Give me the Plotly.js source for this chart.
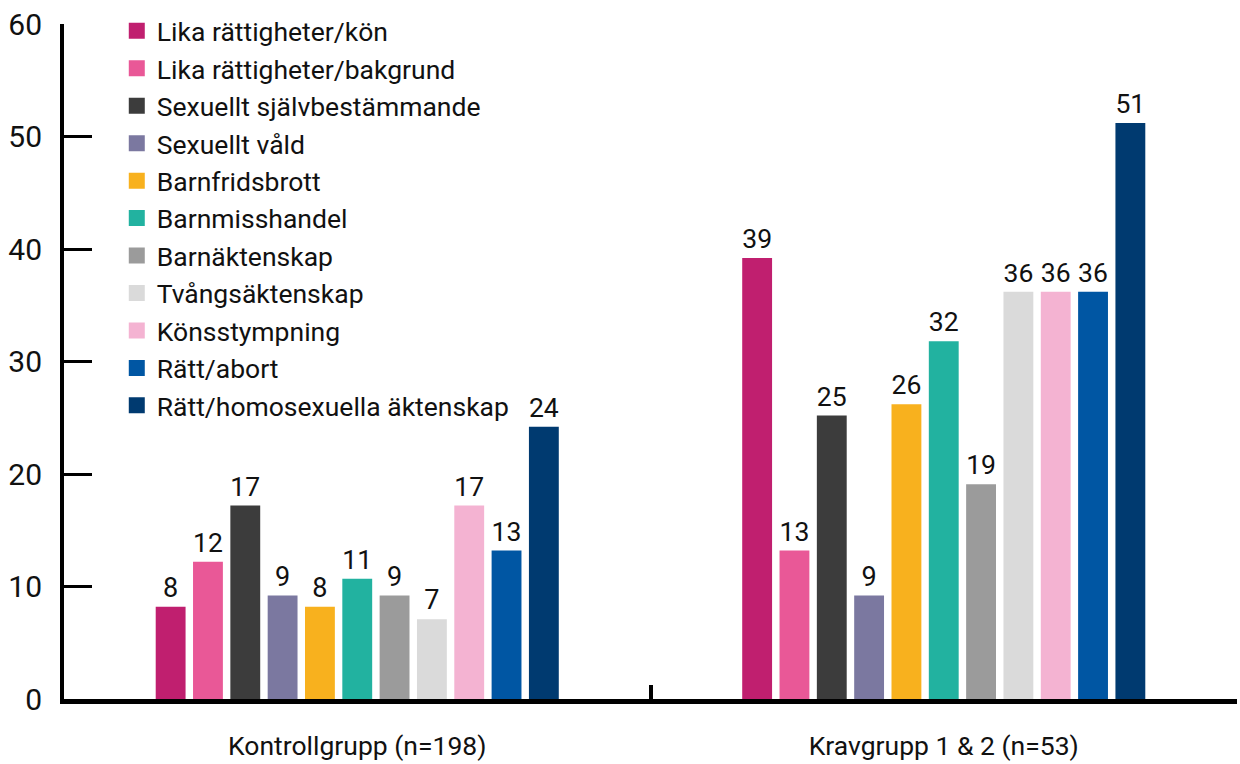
<!DOCTYPE html>
<html>
<head>
<meta charset="utf-8">
<script src="https://cdn.plot.ly/plotly-3.0.1.min.js"></script>
<style>html,body{margin:0;padding:0;background:#fff}#chart{width:1240px;height:764px}</style>
</head>
<body>
<div id="chart"></div>
<script>
const groups = ["Kontrollgrupp (n=198)", "Kravgrupp 1 & 2 (n=53)"];
const seriesNames = [
  "Lika rättigheter/kön",
  "Lika rättigheter/bakgrund",
  "Sexuellt självbestämmande",
  "Sexuellt våld",
  "Barnfridsbrott",
  "Barnmisshandel",
  "Barnäktenskap",
  "Tvångsäktenskap",
  "Könsstympning",
  "Rätt/abort",
  "Rätt/homosexuella äktenskap"
];
const likaKon = [8.2, 39.2];
const likaBakgrund = [12.2, 13.2];
const sexSjalv = [17.2, 25.2];
const sexVald = [9.2, 9.2];
const barnfrid = [8.2, 26.2];
const barnmiss = [10.7, 31.8];
const barnakt = [9.2, 19.1];
const tvang = [7.1, 36.2];
const konsstymp = [17.2, 36.2];
const abort = [13.2, 36.2];
const homo = [24.2, 51.2];
const seriesValues = [likaKon, likaBakgrund, sexSjalv, sexVald, barnfrid, barnmiss, barnakt, tvang, konsstymp, abort, homo];
const colors = ["#C01F6F", "#E95897", "#3C3C3C", "#7B78A0", "#F8B11E", "#22B2A0", "#9B9B9B", "#DADADA", "#F4B3D2", "#0056A3", "#003A70"];
const yTicks = [0, 10, 20, 30, 40, 50, 60];

const FONT = "Roboto, 'Noto Sans', sans-serif";
const traces = [];
seriesNames.forEach((name, i) => {
  traces.push({
    type: "bar",
    name: name,
    x: groups,
    y: seriesValues[i],
    marker: {color: colors[i]},
    texttemplate: "%{y:.0f}",
    textposition: "outside",
    textfont: {family: FONT, size: 27, color: "#111"},
    cliponaxis: false,
    showlegend: false,
    hoverinfo: "name+y"
  });
});
seriesNames.forEach((name, i) => {
  traces.push({
    type: "scatter",
    mode: "markers",
    name: name,
    x: [null],
    y: [null],
    marker: {symbol: "square", size: 18, color: colors[i]},
    legendgroup: "g" + i,
    showlegend: true,
    hoverinfo: "skip"
  });
});

const layout = {
  width: 1240,
  height: 764,
  margin: {l: 64, r: 3, t: 24, b: 65},
  paper_bgcolor: "#fff",
  plot_bgcolor: "#fff",
  font: {family: FONT, color: "#111"},
  barmode: "group",
  bargap: 0.3,
  bargroupgap: 0.2,
  showlegend: true,
  legend: {
    x: 0.045, xanchor: "left",
    y: 1.025, yanchor: "top",
    bgcolor: "rgba(0,0,0,0)",
    font: {family: FONT, size: 26.5, color: "#111"},
    tracegroupgap: 0,
    maxheight: 740,
    itemclick: false
  },
  xaxis: {
    type: "category",
    showline: true, linecolor: "#000", linewidth: 5,
    ticks: "inside", tickson: "boundaries", ticklen: 14, tickwidth: 4, tickcolor: "#000",
    tickfont: {family: FONT, size: 26.5, color: "#111"},
    ticklabelstandoff: 19,
    showgrid: false, zeroline: false, fixedrange: true
  },
  yaxis: {
    range: [0, 60],
    tickvals: yTicks,
    showline: true, linecolor: "#000", linewidth: 4,
    ticks: "inside", ticklen: 28, tickwidth: 3, tickcolor: "#000",
    tickfont: {family: FONT, size: 30, color: "#111"},
    ticklabelstandoff: 12,
    showgrid: false, zeroline: false, fixedrange: true
  }
};

Plotly.newPlot("chart", traces, layout, {displayModeBar: false, staticPlot: true});
</script>
</body>
</html>
